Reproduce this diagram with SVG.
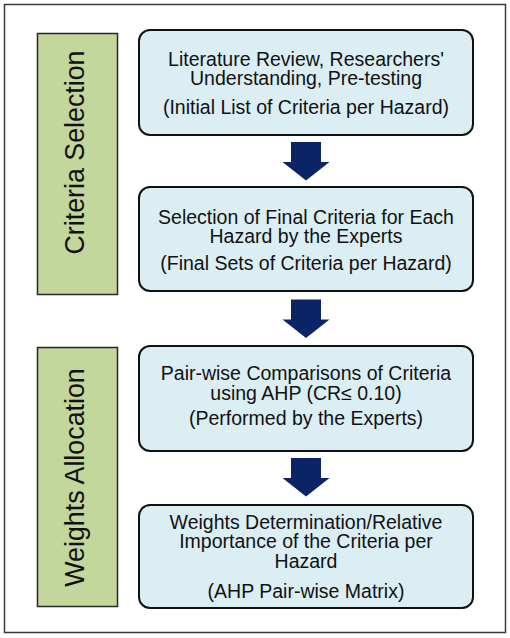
<svg xmlns="http://www.w3.org/2000/svg" width="510" height="638" viewBox="0 0 510 638">
<defs>
<style>
.frame{fill:#fff;stroke:#3a3a3a;stroke-width:1.5}
.phase{fill:#C3D69B;stroke:#262626;stroke-width:1.5}
.step{fill:#DBEEF4;stroke:#111;stroke-width:2}
.arrow{fill:#0B2466;stroke:none}
.t{font-family:"Liberation Sans",Arial,sans-serif;font-size:19.5px;fill:#111;text-anchor:middle}
.pt{font-family:"Liberation Sans",Arial,sans-serif;font-size:26.8px;fill:#111;text-anchor:middle}
</style>
<path id="arr" d="M-15,0 H15 V20 H23.5 L0,38.5 L-23.5,20 H-15 Z"/>
</defs>
<rect class="frame" x="4.5" y="4.5" width="501" height="628"/>
<g id="phase-criteria-selection">
<rect class="phase" x="37.5" y="33.5" width="80" height="261"/>
<text class="pt" transform="translate(83.5,152.5) rotate(-90)">Criteria Selection</text>
</g>
<g id="phase-weights-allocation">
<rect class="phase" x="37.5" y="347.5" width="80" height="259"/>
<text class="pt" transform="translate(83.5,477.5) rotate(-90)">Weights Allocation</text>
</g>
<g id="step1">
<rect class="step" x="139" y="30" width="334" height="105" rx="11"/>
<text class="t" x="306" y="66">Literature Review, Researchers'</text>
<text class="t" x="306" y="85">Understanding, Pre-testing</text>
<text class="t" x="306" y="114">(Initial List of Criteria per Hazard)</text>
</g>
<g id="step2">
<rect class="step" x="139" y="187" width="334" height="104" rx="11"/>
<text class="t" x="306" y="223.5">Selection of Final Criteria for Each</text>
<text class="t" x="306" y="242.5">Hazard by the Experts</text>
<text class="t" x="306" y="270">(Final Sets of Criteria per Hazard)</text>
</g>
<g id="step3">
<rect class="step" x="139" y="346" width="334" height="105" rx="11"/>
<text class="t" x="306" y="380">Pair-wise Comparisons of Criteria</text>
<text class="t" x="306" y="400">using AHP (CR≤ 0.10)</text>
<text class="t" x="306" y="425">(Performed by the Experts)</text>
</g>
<g id="step4">
<rect class="step" x="139" y="505" width="334" height="103" rx="11"/>
<text class="t" x="306" y="529">Weights Determination/Relative</text>
<text class="t" x="306" y="548">Importance of the Criteria per</text>
<text class="t" x="306" y="568">Hazard</text>
<text class="t" x="306" y="598">(AHP Pair-wise Matrix)</text>
</g>
<g id="connectors">
<use href="#arr" class="arrow" x="306" y="142"/>
<use href="#arr" class="arrow" x="306" y="299.5"/>
<use href="#arr" class="arrow" x="306" y="458"/>
</g>
</svg>
